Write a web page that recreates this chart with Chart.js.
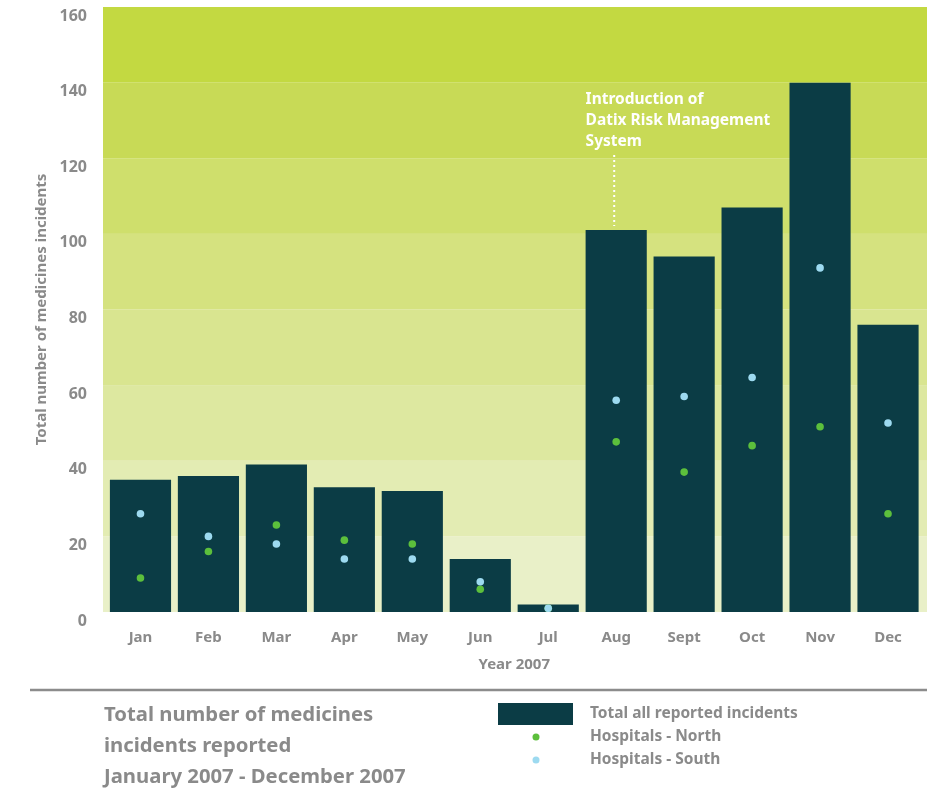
<!DOCTYPE html>
<html>
<head>
<meta charset="utf-8">
<script src="https://cdn.jsdelivr.net/npm/chart.js@4.4.1/dist/chart.umd.min.js"></script>
<style>
  body { margin: 0; background: #ffffff; }
  #wrap { width: 941px; height: 806px; }
</style>
</head>
<body>
<div id="wrap"><canvas id="myChart" width="941" height="806"></canvas></div>
<script>
// Datos
const meses = ['Jan', 'Feb', 'Mar', 'Apr', 'May', 'Jun', 'Jul', 'Aug', 'Sept', 'Oct', 'Nov', 'Dec'];
const totalIncidentes = [35, 36, 39, 33, 32, 14, 2, 101, 94, 107, 140, 76];
const hospitalesNorte = [9, 16, 23, 19, 18, 6, 1, 45, 37, 44, 49, 26];
const hospitalesSur = [26, 20, 18, 14, 14, 8, 1, 56, 57, 62, 91, 50];
const ticksY = [0, 20, 40, 60, 80, 100, 120, 140, 160];

// Colores de las franjas de fondo (de abajo hacia arriba)
const coloresFranjas = ['#e9f0c8', '#e3ecb3', '#dde8a0', '#d9e590', '#d5e27f', '#cfdf6c', '#c8da56', '#c3d941'];

const GRIS = '#8a8a8a';
const FUENTE = "'Noto Sans', 'DejaVu Sans', sans-serif";

const franjasFondo = {
    id: 'franjasFondo',
    beforeDraw(chart) {
        const { ctx, chartArea, scales } = chart;
        // Las franjas sobresalen un poco del área de las barras
        const izq = chartArea.left - 3.5;
        const der = chartArea.right + 5;
        ctx.save();
        for (let i = 0; i < ticksY.length - 1; i++) {
            const yTop = scales.y.getPixelForValue(ticksY[i + 1]);
            const yBot = scales.y.getPixelForValue(ticksY[i]);
            ctx.fillStyle = coloresFranjas[i];
            ctx.fillRect(izq, yTop, der - izq, yBot - yTop);
        }
        ctx.restore();
    }
};

const anotacionDatix = {
    id: 'anotacionDatix',
    afterDatasetsDraw(chart) {
        const { ctx } = chart;
        const bar = chart.getDatasetMeta(0).data[7];
        const x = bar.x - 2;
        const xText = bar.x - bar.width / 2;
        ctx.save();
        // Línea punteada
        ctx.strokeStyle = '#ffffff';
        ctx.lineWidth = 2;
        ctx.setLineDash([2, 3]);
        ctx.beginPath();
        ctx.moveTo(x, 155);
        ctx.lineTo(x, bar.y - 4);
        ctx.stroke();
        ctx.setLineDash([]);
        // Texto
        ctx.fillStyle = '#ffffff';
        ctx.font = `bold 15.5px ${FUENTE}`;
        ctx.textBaseline = 'middle';
        ctx.textAlign = 'left';
        ['Introduction of', 'Datix Risk Management', 'System'].forEach((linea, i) => {
            ctx.fillText(linea, xText, 100 + i * 21);
        });
        ctx.restore();
    }
};

const pieYLeyenda = {
    id: 'pieYLeyenda',
    afterDraw(chart) {
        const { ctx } = chart;
        ctx.save();
        // Línea separadora
        ctx.strokeStyle = '#8c8c8c';
        ctx.lineWidth = 2.5;
        ctx.beginPath();
        ctx.moveTo(30, 690);
        ctx.lineTo(927, 690);
        ctx.stroke();

        // Título inferior
        ctx.fillStyle = GRIS;
        ctx.font = `bold 20.3px ${FUENTE}`;
        ctx.textBaseline = 'middle';
        ctx.textAlign = 'left';
        ['Total number of medicines', 'incidents reported', 'January 2007 - December 2007'].forEach((linea, i) => {
            ctx.fillText(linea, 104, 715 + i * 31);
        });

        // Leyenda
        const ds = chart.data.datasets;
        ctx.fillStyle = ds[0].backgroundColor;
        ctx.fillRect(498, 703, 75, 22);
        ctx.fillStyle = ds[1].backgroundColor;
        ctx.beginPath(); ctx.arc(536, 737, 3.5, 0, Math.PI * 2); ctx.fill();
        ctx.fillStyle = ds[2].backgroundColor;
        ctx.beginPath(); ctx.arc(536, 760, 3.5, 0, Math.PI * 2); ctx.fill();

        ctx.fillStyle = GRIS;
        ctx.font = `bold 15.5px ${FUENTE}`;
        ds.forEach((d, i) => ctx.fillText(d.label, 590, 714 + i * 23));
        ctx.restore();
    }
};

const ctx = document.getElementById('myChart').getContext('2d');
new Chart(ctx, {
    type: 'bar',
    data: {
        labels: meses,
        datasets: [
            {
                label: 'Total all reported incidents',
                data: totalIncidentes,
                backgroundColor: '#0b3c45',
                borderWidth: 0,
                barPercentage: 0.9,
                categoryPercentage: 1,
                order: 2
            },
            {
                label: 'Hospitals - North',
                data: hospitalesNorte,
                type: 'line',
                showLine: false,
                backgroundColor: '#5cbf3c',
                borderColor: '#5cbf3c',
                pointRadius: 3.8,
                pointBorderWidth: 0,
                order: 1
            },
            {
                label: 'Hospitals - South',
                data: hospitalesSur,
                type: 'line',
                showLine: false,
                backgroundColor: '#9ddaf0',
                borderColor: '#9ddaf0',
                pointRadius: 3.8,
                pointBorderWidth: 0,
                order: 0
            }
        ]
    },
    options: {
        responsive: false,
        animation: false,
        layout: { padding: { left: 0, top: 7, right: 19, bottom: 124 } },
        scales: {
            x: {
                grid: { display: false, drawTicks: false },
                border: { display: false },
                ticks: { color: GRIS, font: { family: FUENTE, size: 15, weight: 'bold' }, padding: 17 },
                title: {
                    display: true,
                    text: 'Year 2007',
                    color: GRIS,
                    font: { family: FUENTE, size: 15, weight: 'bold' },
                    padding: { top: 0, bottom: 8 }
                },
                afterFit(scale) {
                    scale.height = 70;
                    scale.paddingLeft = 0;
                    scale.paddingRight = 0;
                }
            },
            y: {
                min: 0,
                max: 160,
                grid: { display: false, drawTicks: false },
                border: { display: false },
                ticks: {
                    stepSize: 20,
                    color: GRIS,
                    font: { family: FUENTE, size: 16, weight: 'bold' },
                    padding: 19.5,
                    labelOffset: 9
                },
                title: {
                    display: true,
                    text: 'Total number of medicines incidents',
                    color: GRIS,
                    font: { family: FUENTE, size: 15, weight: 'bold' },
                    padding: { top: 33, bottom: 0 }
                },
                afterFit(scale) {
                    scale.width = 106.5;
                    scale.paddingTop = 0;
                    scale.paddingBottom = 0;
                }
            }
        },
        plugins: {
            legend: { display: false },
            tooltip: { enabled: false }
        }
    },
    plugins: [franjasFondo, anotacionDatix, pieYLeyenda]
});
</script>
</body>
</html>
